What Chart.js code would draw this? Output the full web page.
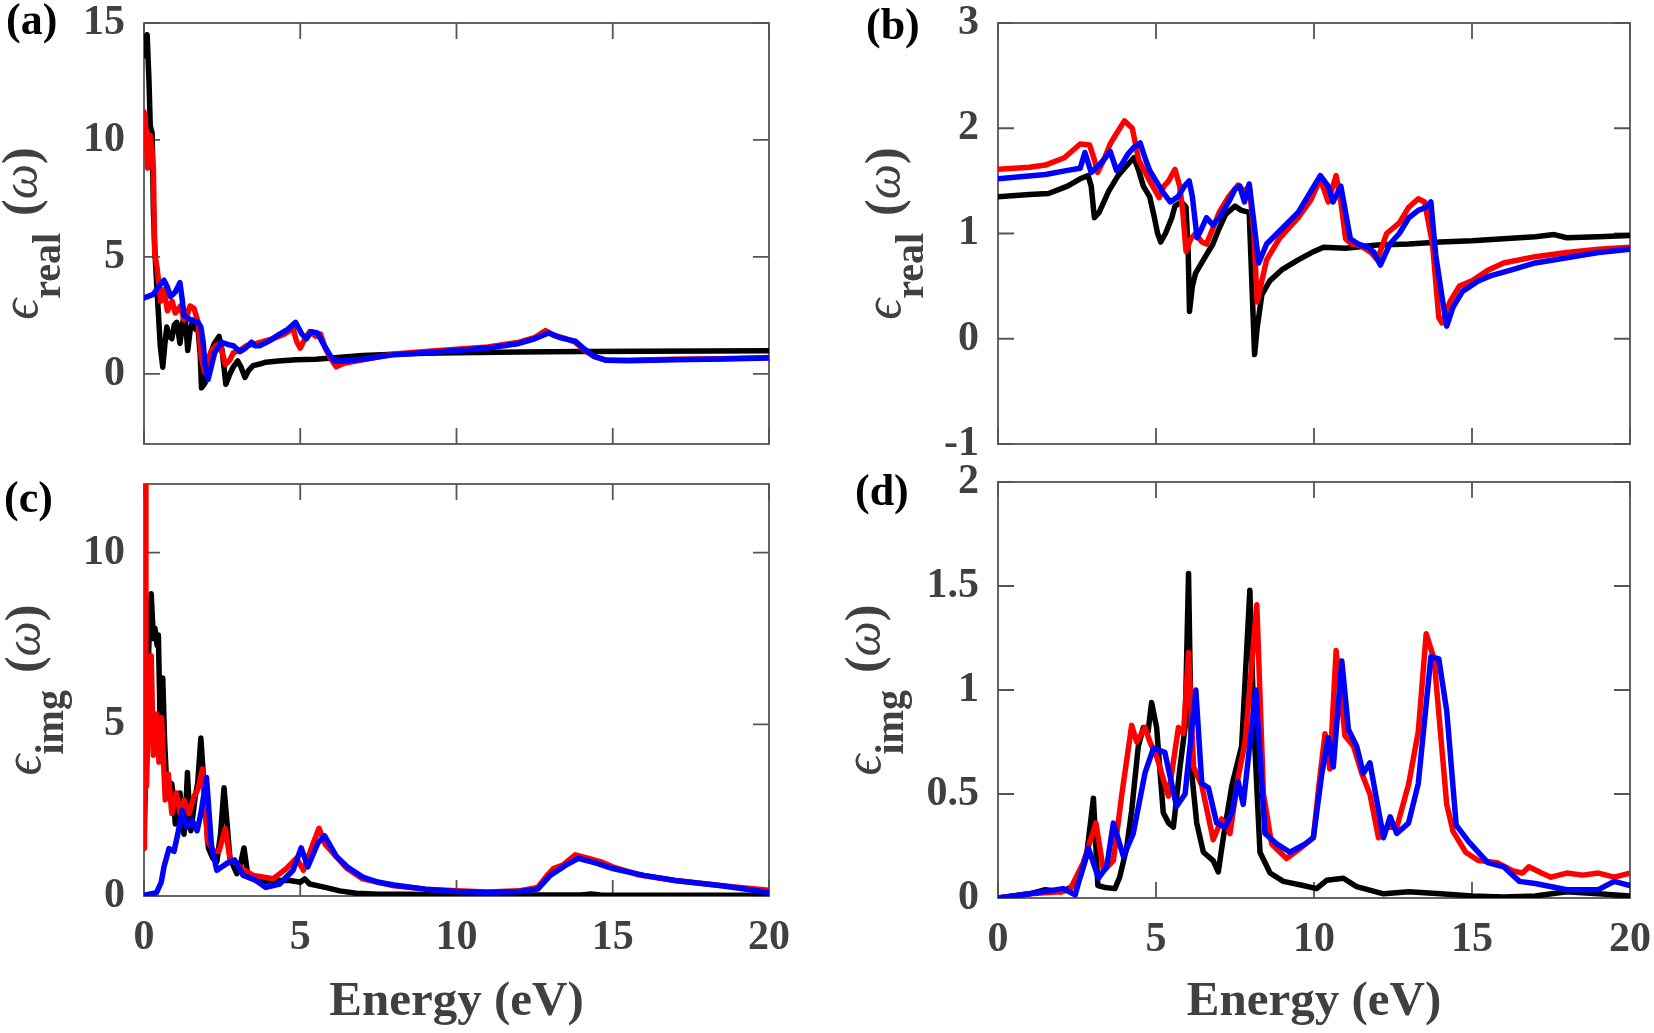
<!DOCTYPE html>
<html>
<head>
<meta charset="utf-8">
<title>Dielectric function</title>
<script src="https://cdn.jsdelivr.net/npm/chart.js@4.4.1/dist/chart.umd.min.js"></script>
<style>
  html, body { margin: 0; padding: 0; background: #fff; overflow: hidden; }
  #page { position: relative; width: 1654px; height: 1033px; }
  .panel { position: absolute; }
</style>
</head>
<body>
<div id="page">
  <div class="panel" style="left:0;top:0;width:800px;height:470px"><canvas id="chartA"></canvas></div>
  <div class="panel" style="left:800px;top:0;width:854px;height:470px"><canvas id="chartB"></canvas></div>
  <div class="panel" style="left:0;top:450px;width:800px;height:583px"><canvas id="chartC"></canvas></div>
  <div class="panel" style="left:800px;top:450px;width:854px;height:583px"><canvas id="chartD"></canvas></div>
</div>
<script>
// energy axis and tick labels
const energyTicks = [0, 5, 10, 15, 20];
const realATicks = [0, 5, 10, 15];
const realBTicks = [-1, 0, 1, 2, 3];
const imgCTicks = [0, 5, 10];
const imgDTicks = [0, 0.5, 1, 1.5, 2];

// (a) real part
const aBlackE = [0, 0.03, 0.1, 0.16, 0.2, 0.26, 0.3, 0.35, 0.42, 0.46, 0.52, 0.6, 0.67, 0.73, 0.8, 0.89, 0.97, 1.05, 1.15, 1.22, 1.3, 1.4, 1.48, 1.57, 1.65, 1.73, 1.8, 1.84, 1.95, 2.03, 2.11, 2.25, 2.4, 2.5, 2.62, 2.75, 2.86, 3, 3.1, 3.23, 3.35, 3.49, 3.7, 3.9, 4.3, 4.86, 5.5, 6, 7, 8, 9, 10, 12, 14, 16, 18, 20];
const aBlackV = [13.6, 14.3, 14.5, 12.5, 10.6, 10.3, 7.0, 5.2, 3.5, 2.6, 1.2, 0.28, 1.3, 2.0, 1.6, 1.5, 2.1, 2.2, 1.3, 2.0, 2.7, 1.0, 1.9, 2.3, 1.9, 1.9, 0.8, -0.6, -0.4, 0.2, 0.8, 1.3, 1.6, 1.0, -0.45, 0.0, 0.3, 0.55, 0.3, -0.15, 0.15, 0.35, 0.42, 0.5, 0.55, 0.6, 0.62, 0.68, 0.78, 0.84, 0.88, 0.9, 0.93, 0.95, 0.97, 0.98, 0.99];
const aRedE = [0, 0.06, 0.12, 0.2, 0.26, 0.3, 0.34, 0.42, 0.48, 0.53, 0.64, 0.75, 0.9, 1.0, 1.17, 1.28, 1.38, 1.47, 1.6, 1.73, 1.84, 1.95, 2.05, 2.16, 2.3, 2.43, 2.6, 2.75, 2.86, 3.05, 3.28, 3.6, 4.13, 4.5, 4.77, 4.88, 5.0, 5.15, 5.3, 5.5, 5.65, 5.8, 6.0, 6.15, 6.4, 7, 8, 9, 10, 11, 12, 12.5, 12.85, 13.1, 13.5, 13.8, 14.1, 14.4, 14.8, 15.5, 17, 18.5, 20];
const aRedV = [11.2, 10.5, 8.8, 10.2, 9.5, 8.8, 5.2, 4.5, 3.8, 3.1, 3.6, 2.7, 3.1, 2.6, 2.9, 2.3, 2.5, 2.9, 2.8, 2.2, 0.65, 0.05, 0.6, 1.0, 1.2, 1.3, 0.4, 0.6, 0.9, 1.0, 1.2, 1.3, 1.5, 1.7, 1.95, 1.4, 1.1, 1.5, 1.8, 1.6, 1.7, 1.1, 0.6, 0.3, 0.45, 0.6, 0.85, 0.95, 1.05, 1.15, 1.35, 1.55, 1.85, 1.65, 1.5, 1.35, 1.0, 0.75, 0.58, 0.58, 0.62, 0.65, 0.7];
const aBlueE = [0, 0.3, 0.45, 0.64, 0.75, 0.85, 1.0, 1.15, 1.22, 1.28, 1.5, 1.73, 1.82, 1.89, 1.95, 2.05, 2.15, 2.26, 2.48, 2.7, 2.86, 3.07, 3.25, 3.44, 3.55, 3.7, 4.0, 4.34, 4.6, 4.85, 5.05, 5.2, 5.35, 5.55, 5.75, 5.95, 6.1, 6.4, 7, 8, 9, 10, 11, 12, 12.5, 12.95, 13.3, 13.8, 14.1, 14.4, 14.8, 15.5, 17, 18.5, 20];
const aBlueV = [3.25, 3.4, 3.7, 4.0, 3.7, 3.3, 3.5, 3.9, 3.2, 2.5, 2.3, 2.2, 2.0, 1.4, 0.4, -0.25, 0.3, 0.9, 1.35, 1.25, 1.2, 0.95, 1.1, 1.35, 1.2, 1.2, 1.4, 1.7, 1.9, 2.2, 1.7, 1.5, 1.8, 1.75, 1.25, 0.8, 0.55, 0.55, 0.62, 0.82, 0.9, 1.0, 1.1, 1.3, 1.5, 1.75, 1.55, 1.4, 1.05, 0.75, 0.58, 0.56, 0.6, 0.63, 0.68];

// (b) real part
const bBlackE = [0, 1, 1.6, 2.2, 2.6, 2.85, 2.95, 3.05, 3.2, 3.5, 3.8, 4.0, 4.3, 4.45, 4.6, 4.8, 4.95, 5.05, 5.15, 5.3, 5.5, 5.6, 5.8, 5.95, 6.02, 6.06, 6.15, 6.25, 6.5, 6.8, 7.0, 7.2, 7.5, 7.7, 7.95, 8.05, 8.12, 8.2, 8.35, 8.6, 9, 9.5, 10, 10.3, 11, 12, 13, 14, 15, 16, 17, 17.6, 18, 19, 20];
const bBlackV = [1.35, 1.37, 1.38, 1.45, 1.52, 1.55, 1.45, 1.15, 1.2, 1.4, 1.55, 1.62, 1.72, 1.6, 1.45, 1.35, 1.15, 1.0, 0.92, 1.0, 1.15, 1.26, 1.3, 1.25, 0.8, 0.26, 0.5, 0.62, 0.75, 0.9, 1.05, 1.18, 1.26, 1.22, 1.2, 0.4, -0.15, 0.1, 0.42, 0.55, 0.66, 0.75, 0.83, 0.87, 0.86, 0.89, 0.9, 0.92, 0.93, 0.95, 0.97, 0.99, 0.96, 0.97, 0.98];
const bRedE = [0, 1, 1.5, 2.1, 2.6, 2.9, 3.05, 3.15, 3.35, 3.55, 3.75, 4.0, 4.25, 4.45, 4.8, 5.1, 5.25, 5.4, 5.6, 5.75, 5.85, 5.95, 6.1, 6.25, 6.45, 6.6, 6.8, 7.0, 7.3, 7.6, 7.8, 7.95, 8.1, 8.2, 8.35, 8.5, 8.9, 9.5, 9.9, 10.2, 10.45, 10.7, 10.85, 11.0, 11.2, 11.5, 11.8, 12.0, 12.3, 12.7, 13.0, 13.3, 13.5, 13.75, 13.95, 14.05, 14.3, 14.6, 15, 15.5, 16, 17, 18, 19, 20];
const bRedV = [1.61, 1.63, 1.65, 1.72, 1.85, 1.84, 1.7, 1.58, 1.7, 1.85, 1.95, 2.07, 2.0, 1.7, 1.5, 1.34, 1.45, 1.5, 1.61, 1.45, 1.2, 0.83, 0.95, 1.0, 0.92, 0.9, 1.05, 1.2, 1.35, 1.46, 1.4, 1.45, 1.0, 0.35, 0.55, 0.75, 0.95, 1.15, 1.32, 1.52, 1.3, 1.55, 1.3, 0.95, 0.9, 0.88, 0.82, 0.75, 1.0, 1.1, 1.25, 1.33, 1.3, 0.9, 0.2, 0.15, 0.35, 0.5, 0.55, 0.65, 0.72, 0.78, 0.82, 0.85, 0.87];
const bBlueE = [0, 1.5, 2.2, 2.6, 2.75, 2.95, 3.2, 3.4, 3.55, 3.75, 3.9, 4.1, 4.3, 4.5, 4.65, 4.8, 5.0, 5.2, 5.45, 5.7, 5.9, 6.05, 6.15, 6.3, 6.45, 6.6, 6.8, 7.0, 7.3, 7.5, 7.65, 7.8, 7.95, 8.1, 8.25, 8.5, 9, 9.5, 9.9, 10.2, 10.45, 10.6, 10.85, 11.0, 11.15, 11.4, 11.7, 11.9, 12.1, 12.4, 12.7, 13.0, 13.3, 13.55, 13.7, 13.85, 14.05, 14.2, 14.4, 14.7, 15.2, 15.6, 16.2, 17, 18, 19, 20];
const bBlueV = [1.52, 1.56, 1.6, 1.62, 1.77, 1.58, 1.65, 1.72, 1.78, 1.6, 1.65, 1.75, 1.82, 1.86, 1.72, 1.6, 1.5, 1.4, 1.3, 1.35, 1.45, 1.5, 1.35, 0.96, 1.05, 1.15, 1.08, 1.15, 1.3, 1.42, 1.45, 1.3, 1.47, 1.1, 0.72, 0.9, 1.05, 1.2, 1.4, 1.55, 1.45, 1.3, 1.45, 1.2, 0.95, 0.9, 0.87, 0.82, 0.7, 0.9, 1.0, 1.15, 1.22, 1.25, 1.3, 0.8, 0.4, 0.12, 0.3, 0.45, 0.55, 0.6, 0.65, 0.72, 0.77, 0.82, 0.85];

// (c) imaginary part
const cBlackE = [0, 0.06, 0.12, 0.18, 0.23, 0.3, 0.35, 0.42, 0.46, 0.51, 0.56, 0.6, 0.66, 0.71, 0.8, 0.89, 0.95, 1.0, 1.08, 1.15, 1.22, 1.28, 1.34, 1.39, 1.45, 1.5, 1.57, 1.64, 1.72, 1.82, 1.9, 1.96, 2.06, 2.2, 2.33, 2.45, 2.56, 2.65, 2.75, 2.97, 3.08, 3.2, 3.33, 3.6, 3.8, 4.2, 4.66, 5.0, 5.14, 5.3, 5.8, 6.26, 6.8, 7.5, 8.5, 10, 12, 14, 14.3, 14.6, 16, 18, 20];
const cBlackV = [1.4, 4.0, 6.3, 8.0, 8.8, 7.5, 7.8, 7.3, 7.6, 5.3, 5.8, 6.35, 4.5, 3.55, 3.3, 3.27, 2.8, 2.1, 2.6, 3.0, 2.3, 1.8, 2.6, 3.6, 2.5, 1.9, 2.4, 2.9, 3.3, 4.6, 3.5, 2.6, 1.4, 1.1, 1.0, 1.8, 3.15, 2.2, 1.1, 0.65, 0.9, 1.4, 0.55, 0.45, 0.42, 0.45, 0.45, 0.4, 0.5, 0.35, 0.25, 0.15, 0.08, 0.05, 0.05, 0.04, 0.03, 0.03, 0.06, 0.03, 0.02, 0.02, 0.02];
const cRedE = [0, 0.01, 0.02, 0.04, 0.06, 0.08, 0.14, 0.23, 0.3, 0.4, 0.48, 0.56, 0.62, 0.68, 0.78, 0.89, 1.03, 1.16, 1.28, 1.44, 1.6, 1.72, 1.87, 1.95, 2.03, 2.24, 2.4, 2.6, 2.75, 3.07, 3.3, 3.5, 4.13, 4.56, 4.88, 5.1, 5.4, 5.6, 5.8, 6.1, 6.5, 7, 7.5, 8, 9, 10, 11, 12, 12.6, 12.9, 13.1, 13.4, 13.8, 14.2, 14.6, 15, 15.8, 17, 18.5, 20];
const cRedV = [1.4, 6.0, 13.0, 13.0, 5.0, 3.2, 5.3, 7.0, 4.1, 5.3, 3.9, 5.2, 4.0, 2.8, 3.55, 2.4, 3.0, 2.4, 2.8, 2.4, 2.9, 3.1, 3.7, 2.8, 1.6, 1.3, 1.3, 1.96, 1.1, 0.85, 0.7, 0.6, 0.5, 0.8, 1.1, 0.75, 1.5, 1.97, 1.5, 1.2, 0.8, 0.5, 0.4, 0.3, 0.2, 0.15, 0.12, 0.15, 0.25, 0.6, 0.8, 0.9, 1.2, 1.1, 1.0, 0.85, 0.62, 0.45, 0.3, 0.17];
const cBlueE = [0, 0.4, 0.55, 0.64, 0.8, 0.96, 1.08, 1.22, 1.38, 1.54, 1.7, 1.82, 2.0, 2.16, 2.33, 2.65, 2.9, 3.17, 3.5, 3.9, 4.34, 4.77, 5.03, 5.24, 5.57, 5.78, 6.16, 6.5, 7, 7.5, 8, 9, 10, 11, 12, 12.6, 13, 13.5, 13.9, 14.5, 15, 16, 17, 18.5, 20];
const cBlueV = [0.02, 0.1, 0.4, 0.85, 1.38, 1.3, 1.8, 2.5, 2.0, 2.2, 1.9, 2.4, 3.45, 1.45, 0.75, 0.95, 1.05, 0.6, 0.5, 0.25, 0.35, 0.75, 1.4, 0.85, 1.55, 1.75, 1.15, 0.85, 0.55, 0.4, 0.32, 0.2, 0.13, 0.1, 0.13, 0.2, 0.6, 0.9, 1.1, 0.95, 0.8, 0.6, 0.45, 0.3, 0.1];

// (d) imaginary part
const dBlackE = [0, 1, 1.5, 2, 2.3, 2.6, 2.8, 3.02, 3.16, 3.4, 3.7, 3.85, 4.07, 4.23, 4.44, 4.6, 4.75, 4.86, 5.02, 5.23, 5.4, 5.55, 5.76, 5.92, 6.03, 6.13, 6.29, 6.5, 6.81, 6.97, 7.13, 7.4, 7.71, 7.97, 8.1, 8.29, 8.61, 9.03, 9.66, 10.08, 10.4, 10.93, 11.35, 12.2, 13, 14, 15, 16, 17, 18, 19, 20];
const dBlackV = [0, 0.02, 0.04, 0.03, 0.05, 0.1, 0.2, 0.48, 0.06, 0.05, 0.045, 0.1, 0.24, 0.42, 0.73, 0.82, 0.8, 0.94, 0.82, 0.41, 0.36, 0.34, 0.63, 0.82, 1.56, 0.6, 0.36, 0.22, 0.18, 0.125, 0.29, 0.54, 0.73, 1.48, 0.82, 0.22, 0.12, 0.08, 0.06, 0.045, 0.085, 0.095, 0.055, 0.02, 0.03, 0.02, 0.01, 0.005, 0.01, 0.03, 0.02, 0.01];
const dRedE = [0, 1, 2, 2.28, 2.7, 3.1, 3.34, 3.65, 3.92, 4.23, 4.39, 4.65, 4.81, 5.02, 5.39, 5.71, 5.87, 6.03, 6.19, 6.45, 6.81, 7.08, 7.34, 7.6, 7.82, 8.19, 8.4, 8.66, 9.13, 9.66, 9.98, 10.14, 10.35, 10.5, 10.7, 10.98, 11.25, 11.51, 11.77, 12.04, 12.3, 12.62, 13, 13.3, 13.55, 13.8, 14, 14.2, 14.4, 14.8, 15.2, 15.8, 16.3, 16.6, 16.8, 17.2, 17.5, 18, 18.5, 19, 19.5, 20];
const dRedV = [0, 0.02, 0.03, 0.04, 0.17, 0.36, 0.13, 0.18, 0.5, 0.83, 0.75, 0.82, 0.75, 0.68, 0.49, 0.82, 0.79, 1.18, 0.63, 0.54, 0.28, 0.38, 0.31, 0.58, 0.75, 1.41, 0.5, 0.26, 0.19, 0.25, 0.29, 0.52, 0.79, 0.62, 1.19, 0.78, 0.73, 0.6, 0.5, 0.29, 0.34, 0.34, 0.55, 0.8, 1.27, 1.15, 0.8, 0.45, 0.32, 0.22, 0.18, 0.17, 0.13, 0.12, 0.15, 0.12, 0.1, 0.12, 0.11, 0.12, 0.1, 0.12];
const dBlueE = [0, 1, 2.07, 2.44, 2.86, 3.18, 3.44, 3.65, 3.97, 4.28, 4.65, 4.92, 5.28, 5.65, 5.92, 6.26, 6.45, 6.66, 6.92, 7.18, 7.4, 7.6, 7.76, 8.16, 8.45, 8.82, 9.24, 9.72, 9.98, 10.25, 10.45, 10.61, 10.88, 11.09, 11.35, 11.56, 11.77, 12.2, 12.41, 12.62, 12.99, 13.3, 13.7, 13.95, 14.2, 14.5, 14.9, 15.5, 16, 16.5, 17, 18, 19, 19.5, 20];
const dBlueV = [0, 0.02, 0.045, 0.015, 0.24, 0.095, 0.15, 0.36, 0.2, 0.31, 0.6, 0.72, 0.7, 0.44, 0.5, 1.0, 0.55, 0.53, 0.36, 0.34, 0.41, 0.56, 0.45, 1.0, 0.31, 0.26, 0.22, 0.26, 0.29, 0.6, 0.77, 0.63, 1.14, 0.81, 0.73, 0.6, 0.65, 0.29, 0.39, 0.31, 0.36, 0.55, 1.16, 1.15, 0.9, 0.35, 0.27, 0.17, 0.15, 0.08, 0.07, 0.04, 0.04, 0.08, 0.06];

const SERIF = "'Liberation Serif', 'DejaVu Serif', 'Times New Roman', serif";
const GRAY = '#404040';

function pts(e, v) {
  return e.map((x, i) => ({ x: x, y: v[i] }));
}

// MATLAB style box: frame, inward ticks on all sides, labels and titles
const framePlugin = {
  id: 'frame',
  beforeDatasetsDraw(chart, args, o) {
    const { ctx, chartArea: a, scales } = chart;
    const len = 16;
    ctx.save();
    ctx.strokeStyle = '#555';
    ctx.lineWidth = 1.8;
    ctx.strokeRect(a.left, a.top, a.right - a.left, a.bottom - a.top);
    ctx.beginPath();
    scales.x.ticks.forEach(t => {
      const px = scales.x.getPixelForValue(t.value);
      ctx.moveTo(px, a.bottom); ctx.lineTo(px, a.bottom - len);
      ctx.moveTo(px, a.top); ctx.lineTo(px, a.top + len);
    });
    scales.y.ticks.forEach(t => {
      const py = scales.y.getPixelForValue(t.value);
      ctx.moveTo(a.left, py); ctx.lineTo(a.left + len, py);
      ctx.moveTo(a.right, py); ctx.lineTo(a.right - len, py);
    });
    ctx.stroke();
    ctx.restore();
  },
  afterDraw(chart, args, o) {
    const { ctx, chartArea: a } = chart;
    ctx.save();
    // panel letter
    ctx.fillStyle = '#000';
    ctx.font = 'bold 44px ' + SERIF;
    ctx.textAlign = 'left';
    ctx.textBaseline = 'alphabetic';
    ctx.fillText(o.label, o.labelX, o.labelY);

    // rotated y title: eps_sub (omega)
    const parts = [
      { t: '\u03F5', f: 'italic 52px ' + SERIF, dy: 0 },
      { t: o.sub, f: 'bold 40px ' + SERIF, dy: 23 },
      { gap: 17 },
      { t: '(', f: 'bold 50px ' + SERIF, dy: 0 },
      { t: '\u03C9', f: 'italic 50px ' + SERIF, dy: 0 },
      { t: ')', f: 'bold 50px ' + SERIF, dy: 0 }
    ];
    let total = 0;
    parts.forEach(p => {
      if (p.gap) { p.w = p.gap; } else { ctx.font = p.f; p.w = ctx.measureText(p.t).width; }
      total += p.w;
    });
    ctx.translate(o.titleX, (a.top + a.bottom) / 2);
    ctx.rotate(-Math.PI / 2);
    ctx.fillStyle = GRAY;
    let cx = -total / 2;
    parts.forEach(p => {
      if (!p.gap) { ctx.font = p.f; ctx.fillText(p.t, cx, p.dy); }
      cx += p.w;
    });
    ctx.restore();

    if (o.xTitle) {
      ctx.save();
      ctx.fillStyle = GRAY;
      ctx.font = 'bold 49px ' + SERIF;
      ctx.textAlign = 'center';
      ctx.textBaseline = 'alphabetic';
      ctx.fillText(o.xTitle, (a.left + a.right) / 2, o.xTitleY);
      ctx.restore();
    }
  }
};

function makePanel(id, p) {
  const tickFont = { family: SERIF, size: 42, weight: 'bold' };
  return new Chart(document.getElementById(id), {
    type: 'line',
    data: {
      datasets: [
        { data: pts(p.blackE, p.blackV), borderColor: '#000000', order: 3 },
        { data: pts(p.redE, p.redV), borderColor: '#ff0000', order: 2 },
        { data: pts(p.blueE, p.blueV), borderColor: '#0000ff', order: 1 }
      ]
    },
    options: {
      responsive: true,
      maintainAspectRatio: false,
      animation: false,
      elements: {
        line: { borderWidth: 5.5, tension: 0, fill: false, borderJoinStyle: 'round', borderCapStyle: 'round' },
        point: { radius: 0, hoverRadius: 0 }
      },
      layout: { padding: { top: p.padTop, right: p.padRight, bottom: 0, left: 0 } },
      scales: {
        x: {
          type: 'linear',
          min: 0,
          max: 20,
          bounds: 'data',
          grid: { display: false, drawTicks: false },
          border: { display: false },
          ticks: { display: p.showX, font: tickFont, color: GRAY, padding: 17, maxRotation: 0, callback: v => String(v) },
          afterBuildTicks: s => { s.ticks = energyTicks.map(v => ({ value: v })); },
          afterFit: s => { s.height = p.xHeight; s.paddingLeft = 0; s.paddingRight = 0; }
        },
        y: {
          type: 'linear',
          min: p.yMin,
          max: p.yMax,
          bounds: 'data',
          grid: { display: false, drawTicks: false },
          border: { display: false },
          ticks: { font: tickFont, color: GRAY, padding: 19, callback: v => String(v) },
          afterBuildTicks: s => { s.ticks = p.yTicks.map(v => ({ value: v })); },
          afterFit: s => { s.width = p.yWidth; s.paddingTop = 0; s.paddingBottom = 0; }
        }
      },
      plugins: {
        legend: { display: false },
        tooltip: { enabled: false },
        frame: {
          label: p.label, labelX: p.labelX, labelY: p.labelY,
          sub: p.sub, titleX: p.titleX,
          xTitle: p.showX ? 'Energy (eV)' : null, xTitleY: 565
        }
      }
    },
    plugins: [framePlugin]
  });
}

makePanel('chartA', {
  blackE: aBlackE, blackV: aBlackV, redE: aRedE, redV: aRedV, blueE: aBlueE, blueV: aBlueV,
  yMin: -3, yMax: 15, yTicks: realATicks, showX: false,
  padTop: 23, padRight: 31, xHeight: 26, yWidth: 144,
  label: '(a)', labelX: 6, labelY: 34, sub: 'real', titleX: 37
});
makePanel('chartB', {
  blackE: bBlackE, blackV: bBlackV, redE: bRedE, redV: bRedV, blueE: bBlueE, blueV: bBlueV,
  yMin: -1, yMax: 3, yTicks: realBTicks, showX: false,
  padTop: 23, padRight: 24, xHeight: 26, yWidth: 198,
  label: '(b)', labelX: 66, labelY: 39, sub: 'real', titleX: 100
});
makePanel('chartC', {
  blackE: cBlackE, blackV: cBlackV, redE: cRedE, redV: cRedV, blueE: cBlueE, blueV: cBlueV,
  yMin: 0, yMax: 12, yTicks: imgCTicks, showX: true,
  padTop: 34, padRight: 31, xHeight: 137, yWidth: 144,
  label: '(c)', labelX: 4, labelY: 62, sub: 'img', titleX: 40
});
makePanel('chartD', {
  blackE: dBlackE, blackV: dBlackV, redE: dRedE, redV: dRedV, blueE: dBlueE, blueV: dBlueV,
  yMin: 0, yMax: 2, yTicks: imgDTicks, showX: true,
  padTop: 32, padRight: 24, xHeight: 135, yWidth: 198,
  label: '(d)', labelX: 55, labelY: 55, sub: 'img', titleX: 80
});
</script>
</body>
</html>
